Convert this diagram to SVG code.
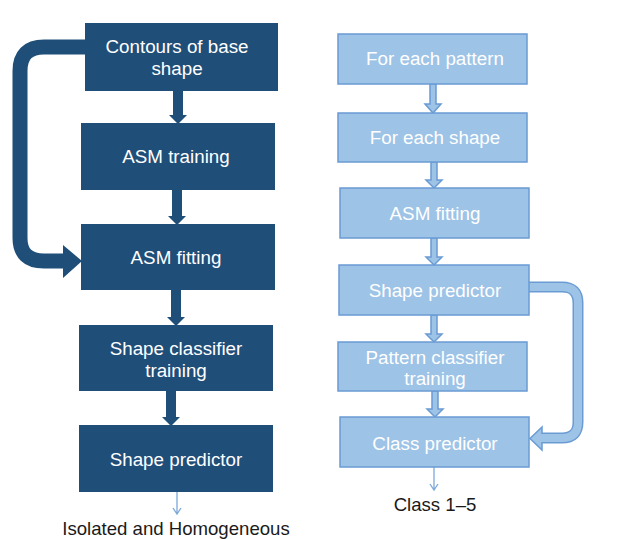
<svg xmlns="http://www.w3.org/2000/svg" width="622" height="539" viewBox="0 0 622 539">
<style>
.dk{fill:#1F4E79}
.lt{fill:#9DC3E6;stroke:#6A9BD3;stroke-width:1.5}
.t{font-family:"Liberation Sans",Arial,sans-serif;font-size:18.8px;fill:#fff;text-anchor:middle}
.b{font-family:"Liberation Sans",Arial,sans-serif;font-size:18.6px;fill:#1a1a1a;text-anchor:middle}
.thin{stroke:#7DA9D9;stroke-width:1.3;fill:none}
</style>
<rect width="622" height="539" fill="#fff"/>
<g id="connectors">
  <polygon class="dk" points="173,91 183,91 183,115 187,115 178,124 169,115 173,115"/>
  <polygon class="dk" points="172,190 182,190 182,216 186,216 177,225 168,216 172,216"/>
  <polygon class="dk" points="171,290 181,290 181,317 185,317 176,326 167,317 171,317"/>
  <polygon class="dk" points="166,391 176,391 176,417 180,417 171,426 162,417 166,417"/>
  <path d="M86,47 H44 Q20,47 20,71 V238 Q20,261 44,261 H64" fill="none" stroke="#1F4E79" stroke-width="15"/>
  <polygon class="dk" points="63,245 82,261 63,278"/>
  <path class="thin" d="M177,492 V514 M173,508 L177,514 L181,508"/>
  <polygon class="lt" points="430,84 436,84 436,104 441,104 433,113 425,104 430,104"/>
  <polygon class="lt" points="431,162 437,162 437,180 442,180 434,188 426,180 431,180"/>
  <polygon class="lt" points="431,238 437,238 437,257 442,257 434,265 426,257 431,257"/>
  <polygon class="lt" points="431,315 437,315 437,334 442,334 434,342 426,334 431,334"/>
  <polygon class="lt" points="432,391 438,391 438,409 443,409 435,417 427,409 432,409"/>
  <path d="M528,287 H562 Q578,287 578,303 V422 Q578,438 562,438 H540" fill="none" stroke="#6A9BD3" stroke-width="11"/>
  <polygon class="lt" points="542,427 530,438.5 542,450"/>
  <path d="M527,287 H562 Q578,287 578,303 V422 Q578,438 562,438 H539" fill="none" stroke="#9DC3E6" stroke-width="8"/>
  <path class="thin" d="M434,467 V490 M430,484 L434,490 L438,484"/>
</g>
<g id="n1"><rect class="dk" x="85" y="23" width="193" height="68"/><text class="t" x="177" y="53">Contours of base</text><text class="t" x="177" y="75">shape</text></g>
<g id="n2"><rect class="dk" x="81" y="123" width="194" height="67"/><text class="t" x="176" y="163">ASM training</text></g>
<g id="n3"><rect class="dk" x="81" y="224" width="194" height="66"/><text class="t" x="176" y="264">ASM fitting</text></g>
<g id="n4"><rect class="dk" x="79" y="325" width="194" height="66"/><text class="t" x="176" y="355">Shape classifier</text><text class="t" x="176" y="377">training</text></g>
<g id="n5"><rect class="dk" x="79" y="425" width="194" height="67"/><text class="t" x="176" y="466">Shape predictor</text></g>
<text class="b" x="176" y="535">Isolated and Homogeneous</text>
<g id="r1"><rect class="lt" x="338" y="34" width="189" height="50"/><text class="t" x="435" y="65">For each pattern</text></g>
<g id="r2"><rect class="lt" x="338" y="113" width="189" height="49"/><text class="t" x="435" y="144">For each shape</text></g>
<g id="r3"><rect class="lt" x="340" y="188" width="189" height="50"/><text class="t" x="435" y="220">ASM fitting</text></g>
<g id="r4"><rect class="lt" x="339" y="265" width="190" height="50"/><text class="t" x="435" y="297">Shape predictor</text></g>
<g id="r5"><rect class="lt" x="338" y="342" width="189" height="49"/><text class="t" x="435" y="364">Pattern classifier</text><text class="t" x="435" y="385">training</text></g>
<g id="r6"><rect class="lt" x="340" y="417" width="189" height="50"/><text class="t" x="435" y="450">Class predictor</text></g>
<text class="b" x="435" y="511">Class 1–5</text>
</svg>
